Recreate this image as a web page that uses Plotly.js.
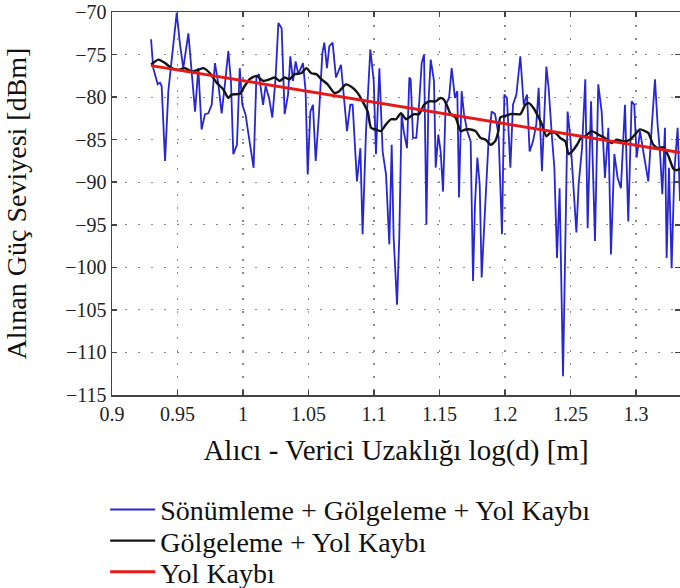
<!DOCTYPE html>
<html>
<head>
<meta charset="utf-8">
<script src="https://cdn.plot.ly/plotly-3.0.1.min.js"></script>
<style>
  html, body { margin: 0; padding: 0; background: #fff; }
  #chart { width: 680px; height: 588px; }
</style>
</head>
<body>
<div id="chart"></div>
<script>
// Received power with fading + shadowing + path loss (blue)
const fadingX = [
  0.9298, 0.9315, 0.9349, 0.9366, 0.9379, 0.9405, 0.9430, 0.9461, 0.9494, 0.9519,
  0.9544, 0.9583, 0.9608, 0.9634, 0.9659, 0.9684, 0.9710, 0.9735, 0.9761, 0.9786,
  0.9812, 0.9837, 0.9862, 0.9888, 0.9908, 0.9926, 0.9954, 0.9975, 0.9995, 1.0020,
  1.0046, 1.0081, 1.0102, 1.0122, 1.0153, 1.0173, 1.0199, 1.0224, 1.0249, 1.0270,
  1.0295, 1.0318, 1.0344, 1.0361, 1.0382, 1.0402, 1.0422, 1.0458, 1.0478, 1.0494,
  1.0514, 1.0534, 1.0555, 1.0580, 1.0606, 1.0621, 1.0641, 1.0659, 1.0684, 1.0710,
  1.0748, 1.0768, 1.0794, 1.0819, 1.0837, 1.0870, 1.0896, 1.0913, 1.0939, 1.0972,
  1.0998, 1.1015, 1.1041, 1.1066, 1.1092, 1.1117, 1.1135, 1.1150, 1.1176, 1.1193,
  1.1211, 1.1227, 1.1252, 1.1270, 1.1280, 1.1298, 1.1323, 1.1344, 1.1364, 1.1382,
  1.1400, 1.1415, 1.1433, 1.1458, 1.1471, 1.1491, 1.1509, 1.1527, 1.1547, 1.1573,
  1.1593, 1.1618, 1.1636, 1.1649, 1.1669, 1.1687, 1.1712, 1.1738, 1.1756, 1.1771,
  1.1789, 1.1807, 1.1822, 1.1847, 1.1873, 1.1898, 1.1924, 1.1942, 1.1952, 1.1977,
  1.1995, 1.2015, 1.2041, 1.2061, 1.2087, 1.2117, 1.2143, 1.2168, 1.2188, 1.2214,
  1.2239, 1.2257, 1.2282, 1.2316, 1.2333, 1.2359, 1.2377, 1.2397, 1.2417, 1.2443,
  1.2461, 1.2478, 1.2499, 1.2524, 1.2545, 1.2562, 1.2588, 1.2613, 1.2631, 1.2657,
  1.2687, 1.2712, 1.2738, 1.2763, 1.2789, 1.2809, 1.2835, 1.2860, 1.2885, 1.2916,
  1.2941, 1.2967, 1.2987, 1.3005, 1.3031, 1.3056, 1.3094, 1.3120, 1.3145, 1.3165,
  1.3183, 1.3201, 1.3221, 1.3234, 1.3252, 1.3272, 1.3293, 1.3318, 1.3336
];
const fadingY = [
  -73.2, -76.6, -78.5, -78.3, -78.7, -87.5, -79.3, -75.0, -70.1, -73.8,
  -76.6, -72.5, -76.6, -81.7, -76.6, -83.8, -82.0, -81.9, -80.9, -76.0,
  -78.5, -81.9, -78.5, -74.6, -78.1, -86.7, -85.6, -76.6, -80.9, -82.1,
  -84.8, -88.3, -77.7, -77.3, -80.9, -78.7, -80.1, -82.4, -77.7, -71.3,
  -71.9, -82.0, -79.7, -75.2, -78.1, -75.8, -77.3, -76.0, -79.3, -89.1,
  -81.7, -80.9, -87.5, -82.0, -74.8, -73.6, -76.6, -74.0, -73.6, -77.7,
  -76.2, -79.3, -84.0, -80.9, -80.9, -89.9, -86.0, -96.1, -84.0, -74.4,
  -78.1, -86.7, -76.6, -86.4, -89.1, -97.3, -85.6, -96.5, -104.4, -96.5,
  -82.0, -84.0, -86.0, -77.7, -77.9, -84.8, -84.8, -80.9, -76.0, -75.0,
  -95.0, -80.9, -75.6, -78.1, -88.3, -84.4, -86.4, -91.1, -80.9, -80.1,
  -76.6, -80.1, -79.3, -91.8, -79.3, -82.0, -84.0, -85.2, -101.6, -92.6,
  -87.1, -90.3, -101.2, -93.4, -85.6, -81.7, -82.0, -83.6, -84.8, -96.1,
  -79.7, -80.1, -88.3, -80.9, -79.7, -75.2, -80.9, -79.7, -86.4, -85.2,
  -83.2, -78.9, -88.7, -76.4, -78.9, -84.8, -88.3, -98.9, -90.7, -112.8,
  -98.5, -81.7, -84.8, -90.3, -95.9, -90.3, -86.0, -77.9, -95.4, -80.5,
  -96.9, -78.5, -81.7, -89.5, -83.6, -98.5, -86.7, -89.5, -90.7, -80.9,
  -94.6, -80.5, -80.9, -87.1, -84.0, -86.4, -89.9, -83.6, -77.9, -83.2,
  -86.4, -91.4, -83.6, -98.9, -88.3, -100.1, -88.7, -83.6, -92.2
];

// Shadowing + path loss (black, smoothed)
const shadowX = [
  0.9298, 0.9354, 0.9405, 0.9455, 0.9506, 0.9557, 0.9608, 0.9659, 0.9697, 0.9748,
  0.9799, 0.9850, 0.9888, 0.9913, 0.9975, 1.0013, 1.0051, 1.0102, 1.0153, 1.0204,
  1.0242, 1.0280, 1.0318, 1.0356, 1.0394, 1.0445, 1.0484, 1.0522, 1.0560, 1.0598,
  1.0646, 1.0697, 1.0735, 1.0786, 1.0837, 1.0875, 1.0913, 1.0952, 1.0977, 1.1015,
  1.1053, 1.1092, 1.1130, 1.1168, 1.1206, 1.1244, 1.1267, 1.1305, 1.1344, 1.1382,
  1.1420, 1.1471, 1.1509, 1.1534, 1.1560, 1.1585, 1.1623, 1.1662, 1.1700, 1.1738,
  1.1776, 1.1814, 1.1853, 1.1891, 1.1924, 1.1949, 1.1964, 1.2003, 1.2041, 1.2079,
  1.2117, 1.2155, 1.2181, 1.2219, 1.2257, 1.2282, 1.2316, 1.2346, 1.2384, 1.2422,
  1.2461, 1.2486, 1.2511, 1.2550, 1.2588, 1.2611, 1.2662, 1.2713, 1.2763, 1.2814,
  1.2852, 1.2903, 1.2954, 1.2992, 1.3031, 1.3069, 1.3094, 1.3132, 1.3170, 1.3208,
  1.3247, 1.3285, 1.3310, 1.3336
];
const shadowY = [
  -76.2, -75.6, -76.0, -76.6, -76.8, -76.6, -77.0, -76.8, -76.6, -77.2,
  -78.3, -79.1, -80.1, -79.7, -79.6, -78.7, -77.9, -77.5, -78.1, -77.9,
  -77.7, -78.1, -77.7, -77.9, -77.3, -77.2, -76.6, -77.2, -77.3, -77.9,
  -78.5, -79.5, -79.3, -78.5, -78.9, -79.5, -80.5, -81.7, -83.6, -83.8,
  -84.0, -83.2, -82.6, -82.6, -81.9, -82.6, -82.4, -82.0, -82.0, -80.9,
  -80.5, -80.5, -80.1, -80.3, -81.1, -82.0, -82.4, -84.0, -83.8, -83.8,
  -84.0, -84.8, -85.0, -85.6, -85.2, -84.0, -82.4, -82.2, -82.0, -82.0,
  -82.0, -80.9, -80.7, -81.3, -82.4, -83.2, -84.6, -84.2, -84.2, -84.8,
  -85.2, -86.7, -86.4, -85.6, -84.6, -84.6, -84.0, -84.4, -84.8, -85.4,
  -85.0, -85.2, -85.0, -84.4, -83.8, -84.0, -84.2, -85.6, -86.0, -85.9,
  -86.9, -88.4, -88.6, -88.4
];

// Path loss only (red)
const pathLossX = [0.9298, 1.3336];
const pathLossY = [-76.3, -86.5];

const yTicks = [-115, -110, -105, -100, -95, -90, -85, -80, -75, -70];
const xTicks = [0.9, 0.95, 1.0, 1.05, 1.1, 1.15, 1.2, 1.25, 1.3];

const seriesNames = [
  'Sönümleme + Gölgeleme + Yol Kaybı',
  'Gölgeleme + Yol Kaybı',
  'Yol Kaybı'
];

const serif = 'Times New Roman, Liberation Serif, DejaVu Serif, serif';

const traces = [
  {
    x: fadingX, y: fadingY, type: 'scatter', mode: 'lines',
    name: seriesNames[0], legend: 'legend',
    line: { color: 'rgb(38,38,212)', width: 1.8 }
  },
  {
    x: shadowX, y: shadowY, type: 'scatter', mode: 'lines',
    name: seriesNames[1], legend: 'legend2',
    line: { color: 'rgb(20,20,20)', width: 2.4, shape: 'spline', smoothing: 0.6 }
  },
  {
    x: pathLossX, y: pathLossY, type: 'scatter', mode: 'lines',
    name: seriesNames[2], legend: 'legend3',
    line: { color: 'rgb(230,25,25)', width: 3 }
  }
];

const axisCommon = {
  showline: true,
  linecolor: '#444',
  linewidth: 1.5,
  mirror: 'ticks',
  ticks: 'inside',
  ticklen: 5,
  tickwidth: 1.5,
  tickcolor: '#444',
  showgrid: true,
  gridcolor: '#8a8a8a',
  gridwidth: 1.2,
  griddash: '1.5px,11.5px',
  zeroline: false,
  tickfont: { family: serif, size: 20, color: '#222' }
};

// one legend box per row so each entry sits on its own line
function legendRow(yCenter) {
  return {
    orientation: 'v',
    x: -0.012,
    xanchor: 'left',
    yref: 'container',
    y: yCenter,
    yanchor: 'middle',
    bgcolor: 'rgba(0,0,0,0)',
    borderwidth: 0,
    itemwidth: 45,
    font: { family: serif, size: 28, color: '#111' }
  };
}

const layout = {
  width: 680,
  height: 588,
  margin: { l: 112, r: 0, t: 12, b: 193 },
  paper_bgcolor: '#fff',
  plot_bgcolor: '#fff',
  showlegend: true,
  font: { family: serif, color: '#111' },
  xaxis: Object.assign({}, axisCommon, {
    range: [0.9, 1.3336],
    tickmode: 'array',
    tickvals: xTicks,
    ticktext: xTicks.map(v => String(v)),
    title: { text: 'Alıcı - Verici Uzaklığı log(d) [m]', font: { family: serif, size: 29, color: '#111' }, standoff: 16 }
  }),
  yaxis: Object.assign({}, axisCommon, {
    range: [-115, -70],
    tickmode: 'array',
    tickvals: yTicks,
    ticktext: yTicks.map(v => '\u2212' + Math.abs(v)),
    title: { text: 'Alınan Güç Seviyesi [dBm]', font: { family: serif, size: 28, color: '#111' }, standoff: 30 }
  }),
  legend: legendRow(0.133),
  legend2: legendRow(0.080),
  legend3: legendRow(0.027)
};

Plotly.newPlot('chart', traces, layout, { displayModeBar: false, staticPlot: true });
</script>
</body>
</html>
